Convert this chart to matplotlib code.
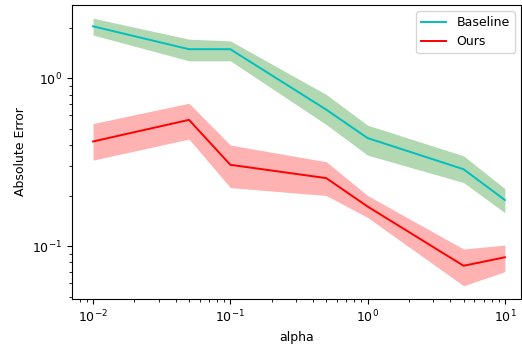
import numpy as np
import matplotlib
matplotlib.use("Agg")
import matplotlib.pyplot as plt

plt.rcParams['font.size'] = 9

alpha = [0.01, 0.05, 0.1, 0.5, 1, 5, 10]

# Baseline: mean and band
base_mean = [2.04, 1.49, 1.49, 0.65, 0.44, 0.287, 0.188]
base_low = [1.81, 1.27, 1.27, 0.53, 0.348, 0.239, 0.158]
base_high = [2.28, 1.71, 1.67, 0.80, 0.525, 0.345, 0.22]

# Ours: mean and band
ours_mean = [0.42, 0.565, 0.305, 0.254, 0.172, 0.0763, 0.0857]
ours_low = [0.325, 0.434, 0.223, 0.20, 0.148, 0.058, 0.0703]
ours_high = [0.537, 0.71, 0.40, 0.318, 0.20, 0.096, 0.1014]

fig, ax = plt.subplots(figsize=(5.22, 3.45), dpi=100)
fig.subplots_adjust(left=0.138, right=0.998, top=0.986, bottom=0.133)

ax.plot(alpha, base_mean, color='c', label='Baseline', linewidth=1.4)
ax.fill_between(alpha, base_low, base_high, color='g', alpha=0.3, linewidth=0)
ax.plot(alpha, ours_mean, color='r', label='Ours', linewidth=1.4)
ax.fill_between(alpha, ours_low, ours_high, color='r', alpha=0.3, linewidth=0)

ax.set_xscale('log')
ax.set_yscale('log')
ax.set_xlim(10 ** -2.153, 10 ** 1.117)
ax.set_xlabel('alpha')
ax.set_ylabel('Absolute Error')
ax.legend(loc='upper right')

fig.savefig('out.png', dpi=100)
